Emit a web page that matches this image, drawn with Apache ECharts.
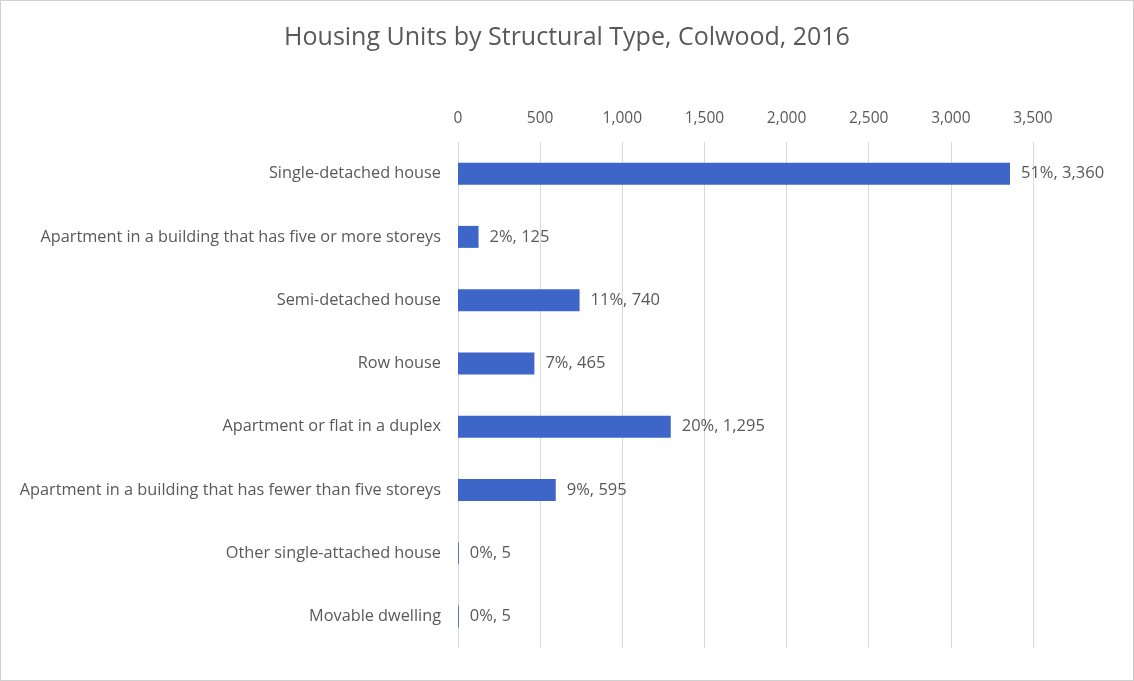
<!DOCTYPE html>
<html>
<head>
<meta charset="utf-8">
<script src="https://cdn.jsdelivr.net/npm/echarts@6/dist/echarts.min.js"></script>
<style>
html,body{margin:0;padding:0;background:#fff;}
#chart{width:1132px;height:679px;border:1px solid #d0d0d0;}
</style>
</head>
<body>
<div id="chart"></div>
<script>
var categories = [
	"Single-detached house",
	"Apartment in a building that has five or more storeys",
	"Semi-detached house",
	"Row house",
	"Apartment or flat in a duplex",
	"Apartment in a building that has fewer than five storeys",
	"Other single-attached house",
	"Movable dwelling"
];
var units = [3360, 125, 740, 465, 1295, 595, 5, 5];
var shares = ["51%", "2%", "11%", "7%", "20%", "9%", "0%", "0%"];

var textColor = "#595959";
var fontName = "'Open Sans', 'Noto Sans', sans-serif";

function fmt(n){
	return n.toString().replace(/\B(?=(\d{3})+(?!\d))/g, ",");
}

var chart = echarts.init(document.getElementById("chart"));
var option = {
	animation: false,
	title: {
		text: "Housing Units by Structural Type, Colwood, 2016",
		left: "center",
		top: 19,
		textStyle: {color: textColor, fontSize: 25, fontWeight: "normal", fontFamily: fontName}
	},
	grid: {left: 457, right: 100, top: 141, bottom: 32, containLabel: false},
	xAxis: {
		type: "value",
		position: "top",
		min: 0,
		max: 3500,
		interval: 500,
		axisLine: {show: false},
		axisTick: {show: false},
		axisLabel: {
			color: textColor, fontSize: 15.5, fontFamily: fontName, margin: 15,
			formatter: function(v){ return fmt(v); }
		},
		splitLine: {lineStyle: {color: "#d9d9d9", width: 1}}
	},
	yAxis: {
		type: "category",
		inverse: true,
		data: categories,
		axisLine: {show: false},
		axisTick: {show: false},
		axisLabel: {color: textColor, fontSize: 16.3, fontFamily: fontName, margin: 17}
	},
	series: [{
		type: "bar",
		data: units,
		barWidth: 22,
		itemStyle: {color: "#3d66c8"},
		label: {
			show: true,
			position: "right",
			distance: 11,
			color: textColor,
			fontSize: 16.5,
			fontFamily: fontName,
			formatter: function(p){ return shares[p.dataIndex] + ", " + fmt(p.value); }
		}
	}]
};
chart.setOption(option);
</script>
</body>
</html>
